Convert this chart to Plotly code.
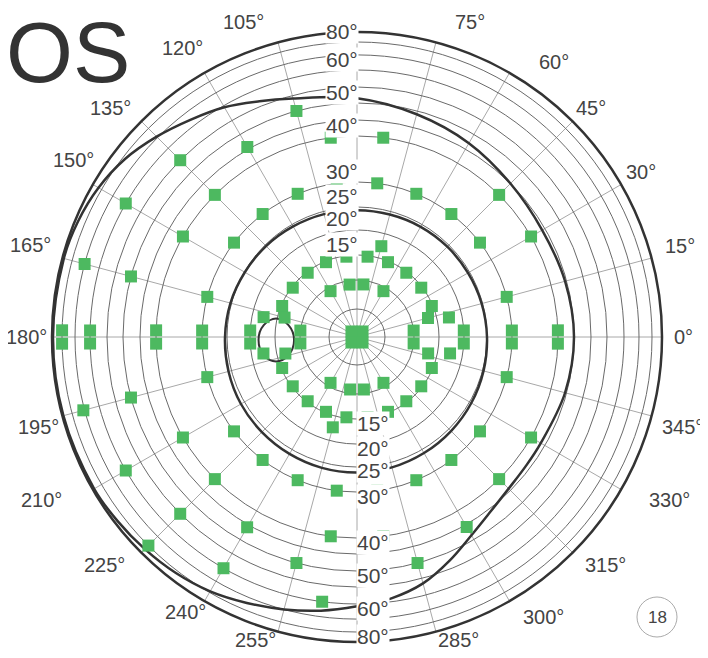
import numpy as np
import plotly.graph_objects as go

# ---- eccentricity scale of the chart (degrees -> radial units) ----
scale_deg = [0, 5, 10, 15, 20, 25, 30, 40, 45, 50, 55, 60, 70, 80, 90]
scale_pos = [0, 28, 57, 82, 107, 130, 155, 201, 217, 234, 250, 267, 282, 295, 305]


def R(e):
    return np.interp(e, scale_deg, scale_pos)


grid_rings = [5, 10, 15, 20, 25, 30, 40, 45, 50, 55, 60, 70, 80]
ring_labels = [15, 20, 25, 30, 40, 50, 60, 80]
angle_ticks = list(range(0, 360, 15))
angle_labels = [a for a in angle_ticks if a not in (90, 270)]

# ---- test points (meridian angle in deg, eccentricity in deg) ----
pt_theta = [
    45, 135, 225, 315,
    6.5, 353.5, 3.5, 356.5, 2.4, 357.6, 1.9, 358.1,
    173.5, 186.5, 176.5, 183.5, 177.6, 182.4, 178.1, 181.9, 178.6, 181.4, 178.7, 181.3,
    60, 83, 98, 120, 240, 262.5, 277.5, 300,
    22.5, 37.5, 52.5, 67.5, 82.5, 97.5, 112.5, 127.5, 142.5, 157.5,
    202.5, 217.5, 232.5, 247.5, 262.5, 277.5, 292.5, 307.5, 322.5, 337.5,
    15, 12, 165, 168, 190, 193, 347, 350,
    75, 105, 255, 285,
    15, 37.5, 52.5, 67.5, 82.5, 97.5, 112.5, 127.5, 142.5, 165,
    195, 217.5, 232.5, 247.5, 262.5, 277.5, 292.5, 307.5, 322.5, 345,
    30, 45, 82.5, 97.5, 135, 150, 210, 225, 262.5, 277.5, 315, 330,
    120, 240, 300,
    105, 165, 195, 255, 285,
    135, 225,
    150, 210, 240, 262.5,
    165, 195,
    225,
]
pt_ecc = [
    1.4, 1.4, 1.4, 1.4,
    10, 10, 20, 20, 30, 30, 40, 40,
    10, 10, 20, 20, 30, 30, 40, 40, 60, 60, 80, 80,
    9.3, 9.3, 9.3, 9.3, 9.3, 9.3, 9.3, 9.3,
    14.8, 14.8, 14.8, 14.8, 14.8, 14.8, 14.8, 14.8, 14.8, 14.8,
    14.8, 14.8, 14.8, 14.8, 14.8, 14.8, 14.8, 14.8, 14.8, 14.8,
    13.3, 17.4, 13.6, 17.7, 17.6, 13.3, 13.2, 17.5,
    17.4, 17.4, 17.3, 17.2,
    30, 30, 30, 30, 30, 30, 30, 30, 30, 30,
    30, 30, 30, 30, 30, 30, 30, 30, 30, 30,
    40, 40, 40, 40, 40, 40, 40, 40, 40, 40, 40, 40,
    45.7, 45.8, 45.7,
    50, 50, 50, 50, 50,
    55, 55,
    60, 60, 60, 60,
    70, 71,
    80,
]

# ---- isopters ----
iso_big_theta = [0, 15, 30, 45, 60, 75, 90, 105, 112.5, 120, 127.5, 135, 142.5, 150,
                 157.5, 165, 180, 195, 210, 217.5, 225, 232.5, 240, 247.5, 255, 262.5,
                 270, 277.5, 285, 292.5, 300, 307.5, 315, 322.5, 330, 345, 360]
iso_big_ecc = [45, 44.5, 44, 45, 47, 49, 51.5, 54, 56.5, 59.5, 64.5, 71, 78, 83.5,
               87, 88.5, 89, 89, 88.5, 87, 85, 82.5, 79, 74.5, 70, 66,
               61.5, 59, 56.5, 52.5, 48.5, 45.8, 44.2, 43.6, 43.5, 44.5, 45]

iso_mid_theta = [0, 15, 30, 45, 60, 75, 90, 105, 120, 135, 150, 165, 180,
                 195, 210, 225, 240, 255, 270, 285, 300, 315, 330, 345, 360]
iso_mid_ecc = [25.0, 24.8, 24.6, 24.5, 24.4, 24.3, 24.3, 24.4, 24.5, 24.7, 24.9, 25.2, 25.4,
               25.6, 25.8, 25.9, 26.0, 26.1, 26.1, 26.0, 25.8, 25.6, 25.4, 25.2, 25.0]

blind_theta = [181.7, 172.8, 167.1, 170.2, 182.7, 194.9, 196.8, 191.0, 181.7]
blind_ecc = [18.3, 17.4, 15.2, 12.5, 11.2, 12.8, 15.5, 17.6, 18.3]

# ---- figure geometry (pixels); page body has an 8px margin ----
W, H = 708, 658
OFF = 8
ML, MT = 44, 24
PW = PH = 610
MR = W - ML - PW
MB = H - MT - PH
CX, CY = 357, 337  # centre on screen

# screen positions (centre) of the meridian labels
angle_label_xy = {
    0: (683, 337), 15: (680, 246), 30: (641, 172), 45: (591, 108), 60: (554, 62),
    75: (470, 22), 105: (243, 22), 120: (182, 48), 135: (110, 108), 150: (73, 160),
    165: (30, 245), 180: (26, 337), 195: (38, 427), 210: (41, 500), 225: (104, 565),
    240: (185, 612), 255: (255, 640), 285: (458, 640), 300: (543, 617), 315: (605, 565),
    330: (669, 500), 345: (682, 427),
}


def px2x(sx):
    return (sx - OFF - ML) / PW


def px2y(sy):
    return (H - MB - (sy - OFF)) / PH


fig = go.Figure()

line_col = "#333333"
fig.add_trace(go.Scatterpolar(theta=iso_big_theta, r=R(iso_big_ecc), mode="lines",
                              line=dict(color=line_col, width=2.5, shape="spline", smoothing=1),
                              hoverinfo="skip", showlegend=False))
fig.add_trace(go.Scatterpolar(theta=iso_mid_theta, r=R(iso_mid_ecc), mode="lines",
                              line=dict(color=line_col, width=2.5, shape="spline"),
                              hoverinfo="skip", showlegend=False))
fig.add_trace(go.Scatterpolar(theta=blind_theta, r=R(blind_ecc), mode="lines",
                              line=dict(color=line_col, width=2, shape="spline"),
                              hoverinfo="skip", showlegend=False))
fig.add_trace(go.Scatterpolar(theta=pt_theta, r=R(pt_ecc), mode="markers",
                              marker=dict(symbol="square", size=12, color="#4db960",
                                          line=dict(width=0)),
                              showlegend=False))

fig.update_layout(
    width=W, height=H,
    margin=dict(l=ML, r=MR, t=MT, b=MB),
    paper_bgcolor="white",
    font=dict(family="Liberation Sans, Arial, sans-serif", color="#444444"),
    polar=dict(
        domain=dict(x=[0, 1], y=[0, 1]),
        bgcolor="white",
        radialaxis=dict(range=[0, R(90)], tickmode="array",
                        tickvals=[float(R(e)) for e in grid_rings],
                        showticklabels=False, ticks="", showline=False,
                        gridcolor="#6a6a6a", gridwidth=1),
        angularaxis=dict(rotation=0, direction="counterclockwise",
                         tickmode="array", tickvals=angle_ticks,
                         showticklabels=False,
                         ticks="", showline=True, linecolor=line_col, linewidth=2.5,
                         gridcolor="#a8a8a8", gridwidth=0.8),
    ),
)

annotations = []
for a in angle_labels:
    sx, sy = angle_label_xy[a]
    annotations.append(dict(x=px2x(sx), y=px2y(sy), xref="paper", yref="paper",
                            text=f"{a}°", showarrow=False, xanchor="center", yanchor="middle",
                            font=dict(size=20, color="#444444")))

for e in ring_labels:
    annotations.append(dict(x=px2x(CX + 2), y=px2y(CY - R(e) - 11), xref="paper", yref="paper",
                            text=f"{e}°", showarrow=False, xanchor="right", yanchor="middle",
                            font=dict(size=21, color="#444444"), bgcolor="white", borderpad=0))
    annotations.append(dict(x=px2x(CX - 1), y=px2y(CY + R(e) + 4), xref="paper", yref="paper",
                            text=f"{e}°", showarrow=False, xanchor="left", yanchor="middle",
                            font=dict(size=21, color="#444444"), bgcolor="white", borderpad=0))

annotations.append(dict(x=px2x(4), y=px2y(52), xref="paper", yref="paper", text="OS",
                        showarrow=False, xanchor="left", yanchor="middle",
                        font=dict(size=86, color="#333333")))
annotations.append(dict(x=px2x(657), y=px2y(617), xref="paper", yref="paper", text="18",
                        showarrow=False, xanchor="center", yanchor="middle",
                        font=dict(size=17, color="#444444")))
fig.update_layout(annotations=annotations)

fig.add_shape(type="circle", xref="paper", yref="paper",
              x0=px2x(637), x1=px2x(677), y0=px2y(637), y1=px2y(597),
              line=dict(color="#aaaaaa", width=1))

fig.write_html("out.html")
